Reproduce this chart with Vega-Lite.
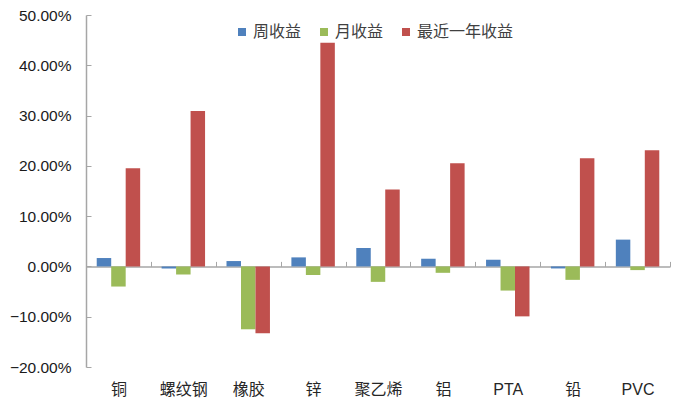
{
  "$schema": "https://vega.github.io/schema/vega-lite/v6.json",
  "width": 584,
  "height": 352,
  "autosize": {"type": "none"},
  "padding": {"left": 86, "top": 15, "right": 19, "bottom": 42},
  "data": {
    "values": [
      {"品种": "铜", "系列": "周收益", "收益": 0.0167},
      {"品种": "铜", "系列": "月收益", "收益": -0.040},
      {"品种": "铜", "系列": "最近一年收益", "收益": 0.195},
      {"品种": "螺纹钢", "系列": "周收益", "收益": -0.004},
      {"品种": "螺纹钢", "系列": "月收益", "收益": -0.016},
      {"品种": "螺纹钢", "系列": "最近一年收益", "收益": 0.309},
      {"品种": "橡胶", "系列": "周收益", "收益": 0.0107},
      {"品种": "橡胶", "系列": "月收益", "收益": -0.125},
      {"品种": "橡胶", "系列": "最近一年收益", "收益": -0.133},
      {"品种": "锌", "系列": "周收益", "收益": 0.018},
      {"品种": "锌", "系列": "月收益", "收益": -0.017},
      {"品种": "锌", "系列": "最近一年收益", "收益": 0.445},
      {"品种": "聚乙烯", "系列": "周收益", "收益": 0.0367},
      {"品种": "聚乙烯", "系列": "月收益", "收益": -0.0307},
      {"品种": "聚乙烯", "系列": "最近一年收益", "收益": 0.153},
      {"品种": "铝", "系列": "周收益", "收益": 0.0153},
      {"品种": "铝", "系列": "月收益", "收益": -0.0127},
      {"品种": "铝", "系列": "最近一年收益", "收益": 0.205},
      {"品种": "PTA", "系列": "周收益", "收益": 0.0133},
      {"品种": "PTA", "系列": "月收益", "收益": -0.048},
      {"品种": "PTA", "系列": "最近一年收益", "收益": -0.0993},
      {"品种": "铅", "系列": "周收益", "收益": -0.004},
      {"品种": "铅", "系列": "月收益", "收益": -0.0267},
      {"品种": "铅", "系列": "最近一年收益", "收益": 0.215},
      {"品种": "PVC", "系列": "周收益", "收益": 0.0533},
      {"品种": "PVC", "系列": "月收益", "收益": -0.0073},
      {"品种": "PVC", "系列": "最近一年收益", "收益": 0.231}
    ]
  },
  "mark": {"type": "bar"},
  "encoding": {
    "x": {
      "field": "品种",
      "type": "nominal",
      "sort": ["铜", "螺纹钢", "橡胶", "锌", "聚乙烯", "铝", "PTA", "铅", "PVC"],
      "scale": {"paddingInner": 0, "paddingOuter": 0},
      "axis": {
        "title": null,
        "orient": "bottom",
        "offset": -100.6,
        "domainColor": "#a6a6a6",
        "domainWidth": 1.5,
        "tickBand": "extent",
        "tickColor": "#a6a6a6",
        "tickSize": -5,
        "tickWidth": 1,
        "labelAngle": 0,
        "labelBaseline": "middle",
        "labelPadding": 127.6,
        "labelFont": "Liberation Sans, Noto Sans CJK SC",
        "labelFontSize": 16,
        "labelColor": "#262626"
      }
    },
    "xOffset": {
      "field": "系列",
      "type": "nominal",
      "sort": ["周收益", "月收益", "最近一年收益"],
      "scale": {"paddingInner": 0, "paddingOuter": 0.74}
    },
    "y": {
      "field": "收益",
      "type": "quantitative",
      "scale": {"domain": [-0.2, 0.5], "nice": false, "zero": false},
      "axis": {
        "title": null,
        "values": [-0.2, -0.1, 0, 0.1, 0.2, 0.3, 0.4, 0.5],
        "format": ".2%",
        "grid": false,
        "domainColor": "#a6a6a6",
        "domainWidth": 1.5,
        "tickColor": "#a6a6a6",
        "tickSize": -5,
        "labelPadding": 20,
        "labelFont": "Liberation Sans",
        "labelFontSize": 15.5,
        "labelColor": "#1a1a1a"
      }
    },
    "color": {
      "field": "系列",
      "type": "nominal",
      "sort": ["周收益", "月收益", "最近一年收益"],
      "scale": {
        "domain": ["周收益", "月收益", "最近一年收益"],
        "range": ["#4F81BD", "#9BBB59", "#C0504D"]
      },
      "legend": {
        "title": null,
        "orient": "none",
        "direction": "horizontal",
        "legendX": 148,
        "legendY": 9,
        "symbolType": "square",
        "symbolSize": 64,
        "symbolStrokeWidth": 0,
        "labelFont": "Noto Sans CJK SC",
        "labelFontSize": 16,
        "labelColor": "#404040",
        "labelOffset": 3,
        "columnPadding": 14
      }
    }
  },
  "config": {"view": {"stroke": null}}
}
